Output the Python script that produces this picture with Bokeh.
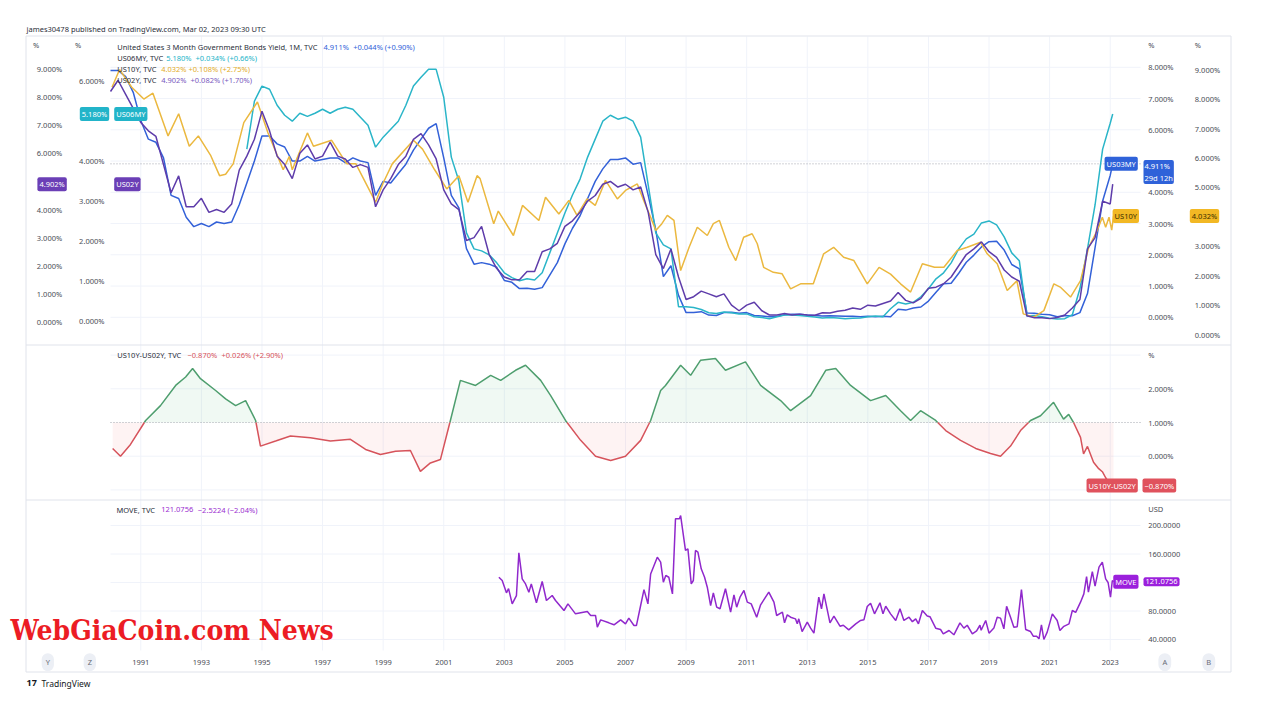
import numpy as np
from bokeh.plotting import figure
from bokeh.models import Range1d, Label
from bokeh.core.properties import value
from bokeh.embed import file_html
from bokeh.resources import INLINE

nan = float("nan")

# ---------------------------------------------------------------- data
year_ticks = [1991, 1993, 1995, 1997, 1999, 2001, 2003, 2005, 2007, 2009, 2011,
              2013, 2015, 2017, 2019, 2021, 2023]

quarter_dates = [round(1990 + 0.25 * i, 3) for i in range(132)] + [2023.0, 2023.083]

us03my = [7.9, 7.9, 7.7, 7.2, 6.3, 5.7, 5.6, 5.1, 3.9, 3.8, 3.2, 2.9,
          3.0, 2.9, 3.05, 3.0, 3.05, 3.6, 4.3, 5.0, 5.8, 5.8, 5.55, 5.45,
          5.0, 5.0, 5.15, 5.0, 5.05, 5.1, 5.1, 4.95, 5.1, 5.0, 4.95, 3.9,
          4.35, 4.3, 4.6, 4.9, 5.35, 5.7, 6.05, 6.2, 5.1, 3.9, 3.5, 2.2,
          1.7, 1.75, 1.7, 1.6, 1.18, 1.12, 0.92, 0.93, 0.9, 0.95, 1.35, 1.75,
          2.35, 2.85, 3.25, 3.8, 4.35, 4.75, 5.05, 5.05, 5.1, 4.9, 4.95, 3.9,
          2.8, 1.3, 1.65, 0.7, 0.15, 0.15, 0.18, 0.07, 0.06, 0.15, 0.16, 0.13,
          0.15, 0.06, 0.04, 0.02, 0.03, 0.08, 0.1, 0.1, 0.07, 0.06, 0.04, 0.05,
          0.04, 0.03, 0.03, 0.02, 0.03, 0.02, 0.03, 0.02, 0.26, 0.23, 0.3, 0.33,
          0.52, 0.8, 1.07, 1.09, 1.41, 1.76, 1.99, 2.25, 2.42, 2.43, 2.15, 1.69,
          1.55, 0.14, 0.13, 0.1, 0.08, 0.02, 0.05, 0.05, 0.15, 0.76, 2.23, 3.72,
          4.54, 4.911]

us06my = [nan, nan, nan, nan, nan, nan, nan, nan, nan, nan, nan, nan,
          nan, nan, nan, nan, nan, nan, 4.3, 5.5, 5.88, 5.8, 5.4, 5.15,
          5.0, 5.2, 5.12, 5.2, 5.3, 5.2, 5.3, 5.35, 5.3, 5.1, 4.9, 4.35,
          4.6, 4.8, 5.0, 5.4, 5.88, 6.1, 6.3, 6.3, 5.6, 4.1, 3.5, 2.2,
          1.8, 1.75, 1.65, 1.45, 1.2, 1.08, 1.0, 1.05, 1.02, 1.2, 1.7, 2.2,
          2.7, 3.15, 3.55, 4.1, 4.55, 5.0, 5.15, 5.05, 5.1, 5.0, 4.6, 3.4,
          2.2, 1.9, 1.8, 0.35, 0.35, 0.33, 0.28, 0.2, 0.18, 0.22, 0.2, 0.17,
          0.17, 0.1, 0.08, 0.05, 0.1, 0.14, 0.14, 0.13, 0.11, 0.09, 0.07, 0.08,
          0.07, 0.05, 0.06, 0.07, 0.1, 0.12, 0.1, 0.3, 0.46, 0.42, 0.46, 0.6,
          0.8, 1.05, 1.2, 1.45, 1.8, 2.05, 2.17, 2.45, 2.5, 2.4, 2.1, 1.7,
          1.5, 0.12, 0.13, 0.1, 0.06, 0.04, 0.05, 0.15, 0.8, 1.8, 2.9, 4.3,
          4.95, 5.18]

us02y = [8.2, 8.6, 8.1, 7.6, 7.1, 6.8, 6.6, 5.6, 4.6, 5.2, 4.1, 4.1,
         4.4, 3.9, 4.0, 3.9, 4.2, 5.4, 5.9, 6.5, 7.5, 6.8, 5.9, 5.6,
         5.1, 6.0, 6.3, 5.8, 5.9, 6.4, 5.9, 5.8, 5.5, 5.6, 5.5, 4.1,
         4.7, 5.1, 5.6, 5.9, 6.5, 6.7, 6.3, 5.8, 4.7, 4.2, 4.0, 2.9,
         3.0, 3.4, 2.4, 1.9, 1.6, 1.5, 1.5, 1.8, 1.8, 2.5, 2.6, 2.8,
         3.4, 3.6, 3.9, 4.3, 4.5, 4.9, 5.0, 4.8, 4.9, 4.7, 4.8, 3.9,
         2.4, 1.9, 2.6, 1.6, 0.8, 0.9, 1.1, 1.0, 0.9, 1.0, 0.6, 0.4,
         0.6, 0.7, 0.4, 0.25, 0.25, 0.3, 0.25, 0.28, 0.25, 0.24, 0.33, 0.32,
         0.38, 0.42, 0.5, 0.45, 0.6, 0.57, 0.66, 0.75, 1.05, 0.77, 0.68, 0.84,
         1.2, 1.24, 1.36, 1.6, 2.0, 2.4, 2.6, 2.85, 2.5, 2.3, 1.85, 1.6,
         1.45, 0.22, 0.15, 0.15, 0.12, 0.16, 0.25, 0.5, 0.8, 2.6, 3.0, 4.3,
         4.2, 4.902]

us10y_t = [1990.05, 1990.3, 1990.7, 1991.1, 1991.4, 1991.9, 1992.25, 1992.6, 1992.9,
           1993.3, 1993.6, 1993.8, 1994.05, 1994.4, 1994.85, 1995.2, 1995.7, 1995.9,
           1996.0, 1996.5, 1996.7, 1997.3, 1997.8, 1998.1, 1998.75, 1999.0, 1999.3,
           2000.0, 2000.3, 2000.7, 2001.1, 2001.5, 2001.8, 2002.1, 2002.2, 2002.65,
           2002.8, 2003.3, 2003.6, 2004.14, 2004.36, 2004.8, 2005.13, 2005.4, 2005.73,
           2006.0, 2006.34, 2006.73, 2007.0, 2007.39, 2007.6, 2007.83, 2008.0, 2008.2,
           2008.38, 2008.6, 2008.82, 2009.1, 2009.37, 2009.7, 2009.9, 2010.1, 2010.41,
           2010.64, 2010.9, 2011.18, 2011.35, 2011.56, 2011.88, 2012.17, 2012.45, 2012.78,
           2013.2, 2013.54, 2013.87, 2014.2, 2014.54, 2014.98, 2015.37, 2015.75, 2016.08,
           2016.41, 2016.8, 2017.2, 2017.51, 2017.95, 2018.28, 2018.72, 2018.94, 2019.27,
           2019.6, 2019.92, 2020.13, 2020.48, 2020.81, 2021.14, 2021.35, 2021.69, 2022.02,
           2022.29, 2022.57, 2022.74, 2022.85, 2022.96, 2023.05, 2023.11]
us10y_v = [8.4, 9.0, 8.4, 8.0, 8.2, 6.75, 7.5, 6.4, 6.75,
           6.1, 5.4, 5.45, 5.8, 7.2, 7.9, 6.85, 5.6, 6.05,
           5.6, 6.85, 6.4, 6.6, 5.8, 5.8, 4.5, 5.15, 5.8,
           6.6, 6.3, 5.6, 4.95, 5.4, 4.5, 5.4, 5.3, 3.77,
           4.2, 3.37, 4.39, 3.88, 4.67, 4.1, 4.56, 4.05, 4.61,
           4.39, 5.24, 4.61, 4.9, 5.12, 4.56, 3.99, 3.54, 3.77,
           4.05, 3.88, 2.18, 2.97, 3.65, 3.37, 3.77, 3.88, 2.97,
           2.52, 3.31, 3.43, 3.09, 2.29, 2.12, 2.07, 1.56, 1.73,
           1.73, 2.75, 2.97, 2.63, 2.52, 1.73, 2.29, 2.06, 1.73,
           1.45, 2.41, 2.29, 2.29, 2.86, 2.97, 3.14, 2.75, 2.41,
           1.5, 1.83, 0.71, 0.6, 0.82, 1.73, 1.62, 1.28, 1.84,
           2.97, 3.54, 3.99, 3.65, 3.99, 3.55, 4.032]

spread_t = [1990.07, 1990.33, 1990.66, 1991.16, 1991.65, 1992.15, 1992.48, 1992.71, 1992.97,
            1993.47, 1993.8, 1994.13, 1994.46, 1994.79, 1994.95, 1995.45, 1995.94, 1996.6,
            1997.26, 1997.92, 1998.42, 1998.91, 1999.41, 1999.9, 2000.23, 2000.56, 2000.89,
            2001.22, 2001.55, 2002.05, 2002.55, 2002.88, 2003.37, 2003.7, 2004.2, 2004.53,
            2005.02, 2005.52, 2006.01, 2006.51, 2007.0, 2007.5, 2007.83, 2008.16, 2008.32,
            2008.82, 2009.15, 2009.48, 2009.97, 2010.3, 2010.96, 2011.46, 2012.12, 2012.45,
            2013.11, 2013.61, 2013.94, 2014.43, 2015.09, 2015.59, 2016.08, 2016.41, 2016.74,
            2017.24, 2017.57, 2018.06, 2018.56, 2019.05, 2019.38, 2019.71, 2020.04, 2020.37,
            2020.7, 2021.13, 2021.46, 2021.63, 2021.79, 2022.02, 2022.12, 2022.25, 2022.45,
            2022.62, 2022.75, 2022.85, 2022.95, 2023.11]
spread_v = [0.23, 0.0, 0.35, 1.06, 1.5, 2.1, 2.35, 2.6, 2.3,
            1.95, 1.7, 1.5, 1.65, 1.06, 0.3, 0.45, 0.6, 0.55,
            0.45, 0.5, 0.2, 0.05, 0.15, 0.17, -0.45, -0.2, -0.1,
            1.06, 2.25, 2.1, 2.4, 2.25, 2.55, 2.7, 2.25, 1.8,
            1.06, 0.47, 0.0, -0.13, 0.0, 0.47, 1.06, 1.95, 2.1,
            2.7, 2.4, 2.85, 2.9, 2.55, 2.8, 2.1, 1.65, 1.35,
            1.8, 2.55, 2.6, 2.1, 1.65, 1.8, 1.35, 1.06, 1.35,
            1.06, 0.76, 0.47, 0.23, 0.08, 0.0, 0.3, 0.76, 1.06,
            1.2, 1.6, 1.1, 1.24, 1.0, 0.56, 0.07, 0.29, -0.18,
            -0.37, -0.47, -0.64, -0.78, -0.87]

move_t = [2002.82, 2002.93, 2003.07, 2003.14, 2003.26, 2003.40, 2003.48, 2003.59, 2003.70, 2003.81,
          2003.89, 2004.06, 2004.25, 2004.39, 2004.58, 2004.69, 2004.97, 2005.10, 2005.35, 2005.74,
          2005.85, 2006.01, 2006.07, 2006.18, 2006.45, 2006.62, 2006.84, 2007.00, 2007.11, 2007.28,
          2007.36, 2007.50, 2007.61, 2007.74, 2007.83, 2008.05, 2008.16, 2008.25, 2008.33, 2008.43,
          2008.55, 2008.65, 2008.78, 2008.82, 2008.98, 2009.06, 2009.17, 2009.24, 2009.31, 2009.39,
          2009.50, 2009.61, 2009.70, 2009.81, 2009.90, 2010.01, 2010.12, 2010.30, 2010.47, 2010.58,
          2010.67, 2010.78, 2010.91, 2011.02, 2011.15, 2011.33, 2011.46, 2011.73, 2011.90, 2011.99,
          2012.18, 2012.25, 2012.34, 2012.45, 2012.61, 2012.67, 2012.72, 2012.83, 2013.00, 2013.11,
          2013.22, 2013.38, 2013.47, 2013.55, 2013.75, 2013.88, 2014.08, 2014.19, 2014.37, 2014.60,
          2014.76, 2014.87, 2014.98, 2015.09, 2015.22, 2015.40, 2015.50, 2015.59, 2015.75, 2015.92,
          2016.06, 2016.19, 2016.36, 2016.47, 2016.58, 2016.67, 2016.80, 2016.96, 2017.05, 2017.24,
          2017.40, 2017.49, 2017.68, 2017.84, 2018.04, 2018.17, 2018.28, 2018.45, 2018.59, 2018.70,
          2018.74, 2018.89, 2019.00, 2019.16, 2019.27, 2019.38, 2019.49, 2019.58, 2019.71, 2019.82,
          2019.93, 2020.07, 2020.21, 2020.37, 2020.46, 2020.57, 2020.65, 2020.73, 2020.81, 2020.92,
          2021.09, 2021.25, 2021.34, 2021.47, 2021.64, 2021.75, 2021.86, 2022.02, 2022.13, 2022.22,
          2022.28, 2022.41, 2022.50, 2022.63, 2022.74, 2022.85, 2022.93, 2023.01, 2023.07, 2023.11]
move_v = [127.4, 122.8, 105.5, 111.5, 90, 101.7, 161.7, 125, 118, 106.4,
          118, 91.5, 121.4, 94.7, 101.7, 94.7, 80.7, 90, 76, 79.3,
          73.7, 73.7, 57.3, 67.6, 63.4, 60.6, 67.6, 62, 70, 59.6,
          59.6, 87.7, 110, 90, 132, 155.5, 148.5, 120.4, 129.8, 127.4,
          104, 209.4, 209.4, 214, 165, 167.3, 118, 122.8, 165, 162.5,
          139.2, 127.4, 113.4, 87.7, 105.5, 85.4, 83.1, 111.2, 78.3, 102.7,
          85.4, 99.4, 108.8, 92.4, 90, 71.3, 88.7, 106.4, 92.4, 73.7,
          78.3, 63.4, 74.7, 71.3, 69, 62, 69, 51.2, 64.3, 55.9,
          48.9, 99.4, 83.1, 104, 63.4, 72.7, 58.7, 60, 53.6, 62,
          66.7, 67.6, 86.3, 91, 76, 91.5, 76, 86.7, 76, 66.7,
          83, 66.7, 71.3, 65, 69, 62, 80.7, 73, 72, 55.9,
          54, 48, 52.6, 46.6, 63.4, 56, 60, 48, 52, 60,
          53, 66.7, 48.9, 56, 71.3, 70, 55, 86.7, 71.3, 57.3,
          58, 110, 54, 51.2, 44.7, 44.7, 41, 60.6, 40, 50.3,
          76, 66.7, 52.6, 58.5, 62, 80.7, 78, 92.4, 104, 128.4,
          106.4, 135.4, 115, 141.5, 148.5, 125, 120, 99.4, 122.8, 121.0756]

# price-scale ticks shown on each scale
ticks_us02 = [0, 1, 2, 3, 4, 6, 7, 8, 9]
ticks_us06 = [0, 1, 2, 3, 4, 6]
ticks_us03 = [0, 1, 2, 3, 4, 6, 7, 8]
ticks_us10 = [0, 1, 2, 3, 5, 6, 7, 8, 9]
ticks_spread = [0, 1, 2]
ticks_move = [40, 80, 160, 200]

# ---------------------------------------------------------------- style
FONT = "Noto Sans"
FS = "7.5px"
TXT = "#4a4d55"
DARK = "#2a2e39"
GRID = "#f0f3fa"
BORDER = "#e0e3eb"
C03, C06, C10, C02 = "#3361d8", "#2ab5c8", "#ebb83f", "#5e3caa"
B03, B06, B10, B02 = "#2f62d9", "#22b4c9", "#f2b824", "#6b3fb6"
GREEN, RED = "#4e9e6e", "#d6535b"
CMOVE, BMOVE = "#9028cc", "#9b20dc"

# ---------------------------------------------------------------- geometry (page px)
W, H = 1261, 703
PANE_L, PANE_R = 110, 1140
X0, X1 = 1990.0, 2024.0
PXY = (PANE_R - PANE_L) / (X1 - X0)


def xs(sx):
    return X0 + (sx - PANE_L) / PXY


def val(scale, sy):
    v0, s0, k = scale
    return v0 + (s0 - sy) / k


SCALES = {
    "us03": (0.0, 316.8, 31.25),
    "us06": (0.0, 320.2, 39.9),
    "us02": (0.0, 321.5, 28.11),
    "us10": (0.0, 334.3, 29.47),
    "spread": (0.0, 455.7, 33.7),
    "move": (40.0, 639.0, 0.7125),
}

p = figure(width=W, height=H, x_range=Range1d(xs(0), xs(W)), y_range=Range1d(H, 0),
           min_border=0, x_axis_location=None, y_axis_location=None,
           toolbar_location=None, output_backend="svg")
p.center = []
p.outline_line_color = None
p.background_fill_color = "white"
p.border_fill_color = "white"
p.extra_y_ranges = {n: Range1d(val(s, H), val(s, 0)) for n, s in SCALES.items()}

# ---------------------------------------------------------------- grid
n_y = len(year_ticks)
p.segment(x0=year_ticks, x1=year_ticks, y0=[36] * n_y, y1=[650] * n_y,
          line_color=GRID, line_width=1)
for rname, gt in (("us03", [0, 1, 2, 3, 4, 5, 6, 7, 8]),
                  ("spread", [-1, 0, 2, 3]),
                  ("move", [40, 80, 120, 160, 200])):
    p.segment(x0=[xs(PANE_L)] * len(gt), x1=[xs(PANE_R)] * len(gt), y0=gt, y1=gt,
              y_range_name=rname, line_color=GRID, line_width=1)

# ---------------------------------------------------------------- frame / separators
bx0, bx1 = xs(25.5), xs(1230.5)
p.segment(x0=[bx0, bx0, bx1, bx0, bx0, bx0], x1=[bx1, bx0, bx1, bx1, bx1, bx1],
          y0=[35.5, 35.5, 35.5, 671.5, 344.5, 499.5], y1=[35.5, 671.5, 671.5, 671.5, 344.5, 499.5],
          line_color=BORDER, line_width=1)

# ---------------------------------------------------------------- top pane
p.segment(x0=[xs(PANE_L)], x1=[xs(PANE_R)], y0=[4.911], y1=[4.911], y_range_name="us03",
          line_color="#a3a6af", line_dash="1 2", line_width=1)

qd = np.array(quarter_dates, dtype=float)
p.line(qd, np.array(us03my, dtype=float), y_range_name="us03", color=C03, line_width=1.5)
p.line(qd, np.array(us06my, dtype=float), y_range_name="us06", color=C06, line_width=1.5)
p.line(np.array(us10y_t, dtype=float), np.array(us10y_v, dtype=float), y_range_name="us10",
       color=C10, line_width=1.5)
p.line(qd, np.array(us02y, dtype=float), y_range_name="us02", color=C02, line_width=1.5)

# ---------------------------------------------------------------- spread pane
BASE = 1.0
st = np.array(spread_t, dtype=float)
sv = np.array(spread_v, dtype=float)
px, py = [st[0]], [sv[0]]
for i in range(1, len(st)):
    a, b = sv[i - 1] - BASE, sv[i] - BASE
    if a * b < 0:
        f = a / (a - b)
        px.append(st[i - 1] + f * (st[i] - st[i - 1]))
        py.append(BASE)
    px.append(st[i])
    py.append(sv[i])
px = np.array(px)
py = np.array(py)
p.varea(x=px, y1=np.full_like(py, BASE), y2=np.maximum(py, BASE), y_range_name="spread",
        fill_color="#26a65b", fill_alpha=0.07)
p.varea(x=px, y1=np.full_like(py, BASE), y2=np.minimum(py, BASE), y_range_name="spread",
        fill_color="#ef5350", fill_alpha=0.07)
p.segment(x0=[xs(PANE_L)], x1=[xs(PANE_R)], y0=[BASE], y1=[BASE], y_range_name="spread",
          line_color="#a3a6af", line_dash="1 2", line_width=1)
p.line(px, np.where(py >= BASE - 1e-9, py, np.nan), y_range_name="spread", color=GREEN, line_width=1.5)
p.line(px, np.where(py <= BASE + 1e-9, py, np.nan), y_range_name="spread", color=RED, line_width=1.5)

# ---------------------------------------------------------------- MOVE pane
p.line(np.array(move_t, dtype=float), np.array(move_v, dtype=float), y_range_name="move",
       color=CMOVE, line_width=1.5)

# ---------------------------------------------------------------- price scales (tick labels)


def scale_labels(ticks, rname, sx, align, fmt):
    p.text(x=[xs(sx)] * len(ticks), y=ticks, text=[fmt % t for t in ticks],
           y_range_name=rname, text_align=align, text_baseline="middle",
           text_font=value(FONT), text_font_size=FS, text_color=TXT)


scale_labels(ticks_us02, "us02", 61.7, "right", "%.3f%%")
scale_labels(ticks_us06, "us06", 104.0, "right", "%.3f%%")
scale_labels(ticks_us03, "us03", 1147.7, "left", "%.3f%%")
scale_labels(ticks_us10, "us10", 1194.3, "left", "%.3f%%")
scale_labels(ticks_spread, "spread", 1147.7, "left", "%.3f%%")
scale_labels(ticks_move, "move", 1147.7, "left", "%.4f")

# time scale
p.text(x=year_ticks, y=[661.7] * n_y, text=[str(y) for y in year_ticks],
       text_align="center", text_baseline="middle", text_font=value(FONT),
       text_font_size=FS, text_color=TXT)

# ---------------------------------------------------------------- labels


def lab(text, sx, y, color=TXT, align="left", baseline="middle", rname="default",
        bg=None, size=FS, font=FONT, style="normal", pad=2, radius=2):
    kw = dict(x=xs(sx), y=y, y_range_name=rname, text=text, text_color=color,
              text_align=align, text_baseline=baseline, text_font=font,
              text_font_size=size, text_font_style=style)
    if bg is not None:
        kw.update(background_fill_color=bg, padding=pad, border_radius=radius)
    p.add_layout(Label(**kw))


lab("james30478 published on TradingView.com, Mar 02, 2023 09:30 UTC", 26, 28.3, color=DARK)
for sx in (32.5, 74.5, 1147.7, 1194.3):
    lab("%", sx, 44.5)
lab("%", 1147.7, 354)
lab("USD", 1147.7, 508.3)

legend_rows = [
    (46.7, [("United States 3 Month Government Bonds Yield, 1M, TVC", 116.7, DARK),
            ("4.911%", 323.0, B03), ("+0.044% (+0.90%)", 352.7, B03)]),
    (57.7, [("US06MY, TVC", 116.7, DARK), ("5.180%", 165.7, B06),
            ("+0.034% (+0.66%)", 195.0, B06)]),
    (68.3, [("US10Y, TVC", 116.7, DARK), ("4.032%", 160.7, "#e3ad2a"),
            ("+0.108% (+2.75%)", 188.0, "#e3ad2a")]),
    (79.3, [("US02Y, TVC", 116.7, DARK), ("4.902%", 160.7, "#7a5ac0"),
            ("+0.082% (+1.70%)", 190.0, "#7a5ac0")]),
    (354.0, [("US10Y-US02Y, TVC", 116.7, DARK), ("\u22120.870%", 187.0, RED),
             ("+0.026% (+2.90%)", 221.0, RED)]),
    (509.3, [("MOVE, TVC", 116.0, DARK), ("121.0756", 160.7, "#9a2ed0"),
             ("\u22122.5224 (\u22122.04%)", 197.3, "#9a2ed0")]),
]
for sy, parts in legend_rows:
    for text, sx, col in parts:
        lab(text, sx, sy, color=col)

# price badges
lab("5.180%", 108.7, 5.18, rname="us06", align="right", bg=B06, color="white")
lab("US06MY", 113.7, 5.18, rname="us06", bg=B06, color="white")
lab("4.902%", 66.3, 4.902, rname="us02", align="right", bg=B02, color="white")
lab("US02Y", 113.7, 4.902, rname="us02", bg=B02, color="white")
lab("US03MY", 1137.3, 4.911, rname="us03", align="right", bg=B03, color="white")
lab("4.911%\n29d 12h", 1143.0, 159.5, baseline="top", bg=B03, color="white", pad=1)
lab("US10Y", 1138.5, 4.032, rname="us10", align="right", bg=B10, color="#3b2f00")
lab("4.032%", 1189.3, 4.032, rname="us10", bg=B10, color="#3b2f00")
lab("US10Y-US02Y", 1137.3, -0.87, rname="spread", align="right", bg="#e0525d", color="white")
lab("\u22120.870%", 1142.0, -0.87, rname="spread", bg="#e0525d", color="white")
lab("MOVE", 1138.0, 121.0756, rname="move", align="right", bg=BMOVE, color="white")
lab("121.0756", 1143.0, 121.0756, rname="move", bg=BMOVE, color="white")

for letter, sx in (("Y", 47.3), ("Z", 89.3), ("A", 1164.3), ("B", 1208.3)):
    lab(letter, sx, 661.7, align="center", bg="#eceff5", color="#6a6d78", pad=4, radius=8)

lab("WebGiaCoin.com News", 10, 630, color="#ec1c24", size="28px",
    font="DejaVu Serif Condensed", style="bold")
lab("17", 26, 682.7, color="#131722", size="9px", style="bold")
lab("TradingView", 41, 682.7, color="#131722", size="8.5px")

open("out.html", "w").write(file_html(p, INLINE))
